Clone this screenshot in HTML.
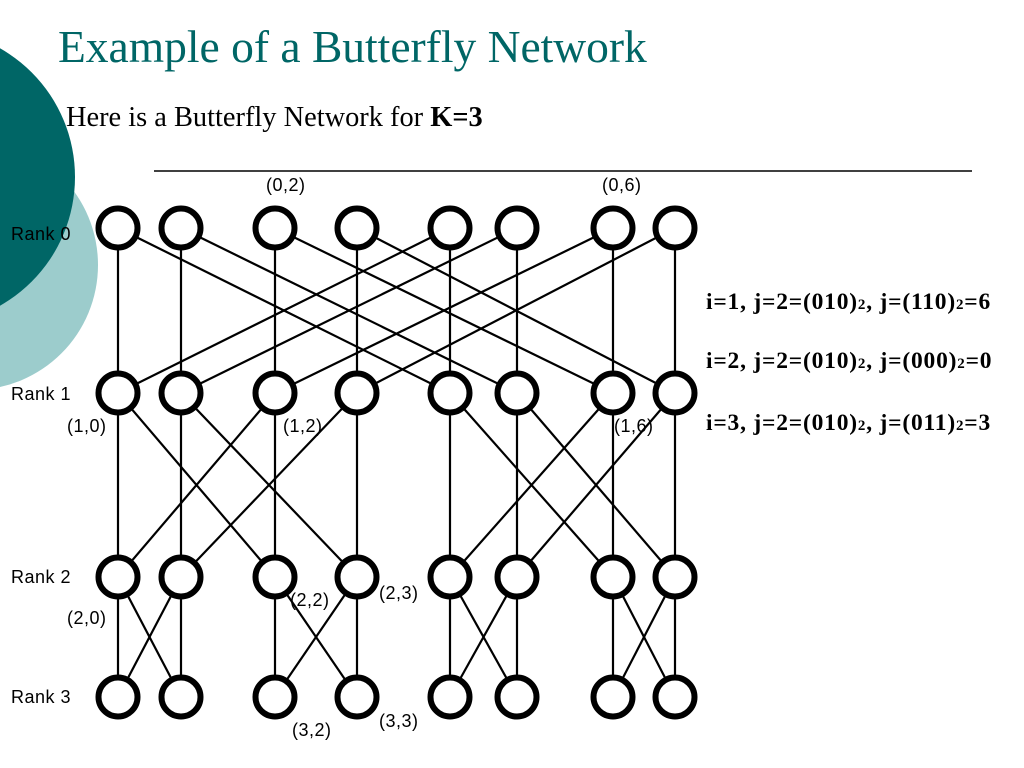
<!DOCTYPE html>
<html><head><style>
body{margin:0;width:1024px;height:768px;overflow:hidden;background:#fff;position:relative;font-family:"Liberation Sans",sans-serif}
.t{position:absolute;white-space:nowrap}
.s{font-size:18px;letter-spacing:0.5px}
.r{font:bold 23.5px 'Liberation Serif',serif;letter-spacing:0.8px}
.r span{font-size:15px}
</style></head><body>
<svg width="1024" height="768" style="position:absolute;left:0;top:0">
<circle cx="-27" cy="265" r="125" fill="#9ccccc"/>
<circle cx="-73" cy="177" r="148" fill="#006666"/>
<line x1="154" y1="171" x2="972" y2="171" stroke="#000" stroke-width="1.5"/>
<g id="g" stroke="#000" stroke-width="2.2"></g>
</svg>
<div class="t" style="left:58px;top:20px;font:45.5px 'Liberation Serif',serif;color:#006666">Example of a Butterfly Network</div>
<div class="t" style="left:66px;top:102px;font:28.4px 'Liberation Serif',serif">Here is a Butterfly Network for <b>K=3</b></div>
<div class="t s" style="left:11px;top:224px">Rank 0</div>
<div class="t s" style="left:11px;top:384px">Rank 1</div>
<div class="t s" style="left:11px;top:567px">Rank 2</div>
<div class="t s" style="left:11px;top:687px">Rank 3</div>
<div class="t s" style="left:266px;top:175px">(0,2)</div>
<div class="t s" style="left:602px;top:175px">(0,6)</div>
<div class="t s" style="left:67px;top:416px">(1,0)</div>
<div class="t s" style="left:283px;top:416px">(1,2)</div>
<div class="t s" style="left:614px;top:416px">(1,6)</div>
<div class="t s" style="left:290px;top:590px">(2,2)</div>
<div class="t s" style="left:379px;top:583px">(2,3)</div>
<div class="t s" style="left:67px;top:608px">(2,0)</div>
<div class="t s" style="left:292px;top:720px">(3,2)</div>
<div class="t s" style="left:379px;top:711px">(3,3)</div>
<div class="t r" style="left:706px;top:289px">i=1, j=2=(010)<span>2</span>, j=(110)<span>2</span>=6</div>
<div class="t r" style="left:706px;top:348px">i=2, j=2=(010)<span>2</span>, j=(000)<span>2</span>=0</div>
<div class="t r" style="left:706px;top:410px">i=3, j=2=(010)<span>2</span>, j=(011)<span>2</span>=3</div>
<script>
var X=[118,181,275,357,450,517,613,675],Y=[228,393,577,697],g=document.getElementById('g'),s='';
for(var r=0;r<3;r++){var m=4>>r;for(var i=0;i<8;i++){s+='<line x1="'+X[i]+'" y1="'+Y[r]+'" x2="'+X[i]+'" y2="'+Y[r+1]+'"/>';s+='<line x1="'+X[i]+'" y1="'+Y[r]+'" x2="'+X[i^m]+'" y2="'+Y[r+1]+'"/>';}}
for(var r=0;r<4;r++)for(var i=0;i<8;i++)s+='<circle cx="'+X[i]+'" cy="'+Y[r]+'" r="19.5" fill="#fff" stroke-width="6"/>';
g.innerHTML=s;
</script>
</body></html>
